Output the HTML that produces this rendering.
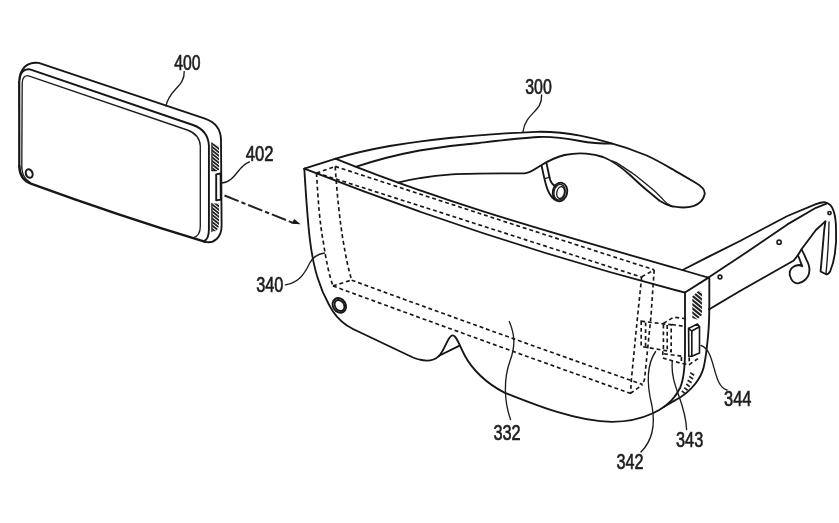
<!DOCTYPE html>
<html>
<head>
<meta charset="utf-8">
<title>Patent figure</title>
<style>
html,body{margin:0;padding:0;background:#fff;}
body{width:839px;height:523px;overflow:hidden;font-family:"Liberation Sans",sans-serif;}
svg{display:block;}
.l{fill:none;stroke:#141414;stroke-width:1.85;stroke-linecap:round;stroke-linejoin:round;}
.t{fill:none;stroke:#1e1e1e;stroke-width:1.35;stroke-linecap:round;stroke-linejoin:round;}
.d{fill:none;stroke:#181818;stroke-width:1.65;stroke-dasharray:3.9 2.9;stroke-linecap:butt;}
.h{fill:none;stroke:#222;stroke-width:1.2;stroke-linecap:butt;}
text{font-family:"Liberation Sans",sans-serif;font-size:22px;fill:#1c1c1c;stroke:#1c1c1c;stroke-width:0.65;}
</style>
</head>
<body>
<svg width="839" height="523" viewBox="0 0 839 523">
<defs>
<filter id="b" x="-5%" y="-5%" width="110%" height="110%"><feGaussianBlur stdDeviation="0.55"/></filter>
</defs>
<rect x="0" y="0" width="839" height="523" fill="#ffffff"/>
<g filter="url(#b)">

<!-- ================= PHONE 400 ================= -->
<g id="phone">
<path class="l" d="M19.2,82 C19.3,69 27,61.4 38.7,62.9 L205,118.6 C216,122.5 221,129 221,140 L221.6,226 C221.6,237 214,244.3 204.6,241.7"/>
<path class="l" style="stroke-width:2.4" d="M204.6,241.7 Q118,215.4 31.5,183.8 C24,181.5 19.6,175 19.3,166"/>
<path class="l" style="stroke-width:2.2" d="M19.3,166 L19.2,82"/>
<path class="l" d="M19.6,80 C20,72.5 24,68.4 30,69.4 L193,125 C203,128.6 208.6,135 208.9,146 L208.9,229 C209,236 207.4,240 203.5,241.3"/>
<path class="t" d="M21.8,168 L22.2,83 C22.4,77.5 25,75 28.6,75.8 L187.3,130 C196,133.2 200,138 200.3,146 L200.3,226.5 C200.3,232.5 198,236.5 193,238"/>
<path class="t" d="M21.8,168 C22.3,174 25,179.5 30,182.4"/>
<ellipse class="l" cx="29.2" cy="173.5" rx="3.3" ry="4.4" transform="rotate(-20 29.2 173.5)" style="stroke-width:2"/>
<!-- connector -->
<path class="l" d="M216.2,174.3 L220.6,173.4 L220.8,199.6 L216.2,200.4 Z"/>
</g>

<!-- ================= GLASSES 300 ================= -->
<g id="glasses">
<!-- front face outline -->
<path class="l" d="M304.3,168.7 C305.6,190 307.6,222 310.2,242 C312,256 314.5,268 317.5,277.5 C321,289 327,302 333,311.5 C338,319 345,325 353,329 L413,357.5 C422,361 432,362.4 438.6,356.4 C445,350 447.5,336.6 452.2,335.4 C456.5,334.6 459,345 464.5,355 C472,369.5 487,384 504.5,392.6 C534.5,404.6 577,421.8 612,421.8 C640,421.8 669,411 680,388 C684.5,378 685,365 685,350 L685,292.5"/>
<!-- front top edge -->
<path class="l" d="M304.3,168.7 C431.2,218.6 558.1,259.5 685,292.6"/>
<!-- back top edge -->
<path class="l" d="M335.9,158.8 C460.1,209.1 584.3,241.1 708.5,277.7"/>
<!-- left side top -->
<path class="l" d="M304.3,168.7 L335.9,158.6"/>
<!-- right side top -->
<path class="l" d="M685,292.5 L708.5,277.6"/>
</g>

<!-- left arm -->
<path class="l" d="M335.9,158.6 C352,153.5 370,149.5 389.7,146 C410,142.6 430,140 449.3,138 C475,135.4 500,133.4 521,132.6 C527,132.2 533,131.8 537.3,131.8 C553,131.6 567,133 580,135.6 C590,137.5 600,140 609,142.6 C622,146 636,151 646.7,155.5 C660,161.5 670,168 680,173.6 L696,183 C702,186.5 705.6,190.5 704.5,194.8 C703.3,200 700,203.6 694,205.8 C688,207.8 678,207.6 671,206"/>
<path class="l" d="M356.4,166.7 C377,159.8 398,154.5 419.5,150.5 C440,147 460,144.6 479,143 C500,140.5 520,138 538.8,137 C553,136.4 567,138.6 580,141 C591,143 601,143.6 612,143.6"/>
<path class="l" d="M397.8,182.6 C415,178.5 435,175.5 452,174.4 C475,173 500,173.6 524.4,173.3 C531,173 536,168 541.6,165 C549,160.5 557,157 564.5,155 C572,153.5 580,153 586,153.6 C590,154 597,155 603,157 C612,160.5 621,167 630,175 C637,181.5 641,185.5 646.7,190 C652,194.5 656,198 660,201 C664,203.5 667,205 671,206"/>
<path class="t" d="M612,160.8 C616,161.8 618.5,163.6 621,165.6 C626,169 631,172 635,175 C642,180.5 648,185.5 653.4,190 C658,194 663,199.5 666.8,203.4 L671,206"/>
<!-- earbud 1 -->
<path class="l" d="M541.6,165.8 C543,172 544,178 545.9,184.4 C547.5,190.5 550,196 554.5,199.5"/>
<path class="l" d="M546.6,163.7 C547.8,169 548.8,174.5 550.2,180 C551.2,183 553,185 555.2,185.9"/>
<path class="t" d="M544.8,178.6 L549.6,177.2"/>
<ellipse class="l" cx="560" cy="192" rx="7.2" ry="9.4" transform="rotate(12 560 192)"/>
<ellipse class="t" cx="560.6" cy="192.6" rx="3.8" ry="6" transform="rotate(12 560.6 192.6)"/>
<ellipse class="t" cx="559.6" cy="192.2" rx="5.6" ry="7.9" transform="rotate(12 559.6 192.2)"/>

<!-- right arm -->
<path class="l" d="M682.6,270 C702,260 720,251 740,241 L787.4,216 L815.9,204.2 C820,202.6 823,202 825.4,202.4 C830,203.5 832.5,207 833.7,211.3 C835.5,217 836,223 836,229 C836.6,238 836,246 834.9,253.7 C834,260 832.5,266 830.1,271.5 C829,273.5 828,274.3 826.6,274.5 L820.6,271.5 L824.2,230 L825.4,221.4"/>
<path class="l" d="M708.5,277.6 L747,252 L787.4,224.4 L815.9,207.8 L826.6,203.6"/>
<path class="l" d="M709.3,309.2 L740,291 L793.4,260.8 C797,257 799.5,253 801.7,249 L815.9,230 L825.4,221.4"/>
<path class="t" d="M829,222 C828.8,240 827.5,258 826,273.9"/>
<path class="l" d="M709.3,278.4 L709.3,309.2"/>
<circle class="t" cx="720" cy="277" r="1.9" style="stroke-width:1.6"/>
<circle class="t" cx="779.1" cy="242.2" r="2.1" style="stroke-width:1.6"/>
<circle class="t" cx="829.5" cy="213.1" r="1.6" style="stroke-width:1.7"/>
<!-- earbud 2 -->
<path class="l" d="M801.7,249.6 C803.5,253 805,256 806.4,259.6 C808.3,263 809.6,266.5 809.4,270.3 C809.3,274.5 807.8,277.5 805.2,279.8 C803,281.8 801,283 798.1,283.4 C795,283.4 792.5,281.5 791,278.6 C789.6,276.4 789.3,274 789.8,271.5 C790.4,269.3 791.6,267.8 793.4,266.8 C795.3,265.6 797.3,265 799.3,265 C800.5,265.2 801.4,265.6 802.2,266.2 L798.1,255.5"/>

<!-- right side face back edge -->
<path class="l" d="M709.3,309.2 C709.2,320 708.6,333 707.2,344 C706.4,352 705.2,361 703.6,367.5 C702,374 699,379 695.5,383.5 C690,390.5 682,397 674,400.9 C670,403.2 667,405 664,406.8"/>

<!-- dashed display 332 -->
<path class="d" d="M316.5,173 L335.2,166.5"/>
<path class="d" d="M335.2,166.4 Q494.7,218.6 654.2,269.8"/>
<path class="d" d="M316.5,172.9 Q479.1,224.6 641.7,277.2"/>
<path class="d" d="M641.7,276.7 L654.2,270"/>
<path class="d" d="M316.5,173 C318,200 320,225 323,240 C326,260 329,275 333,285.9"/>
<path class="d" d="M335.2,166.5 C337,195 340,222 343,240 C346,258 348.5,270 351.7,280"/>
<path class="d" d="M333,285.9 L351.7,280"/>
<path class="d" d="M351.7,280.2 Q497,333.4 642.4,384.4"/>
<path class="d" d="M333,286 Q482,340.6 630.8,393.5"/>
<path class="d" d="M630.5,393.3 L642.4,385"/>
<path class="d" d="M654.2,270 L650.9,317 L644.5,379.5 L642.4,385"/>
<path class="d" d="M641.7,276.7 L637.5,317 L631.4,379.5 L630.5,393.3"/>

<!-- components 342 343 344 -->
<g style="stroke-dasharray:3.4 2">
<path class="d" d="M641.2,321.2 L671.2,324.8 L671.2,351.6 L641.2,346.4 Z"/>
<path class="d" d="M645.6,322.4 L645.6,346.6"/>
<path class="d" d="M663.4,324.6 L663.4,350.6 M667.2,325 L667.2,351.2"/>
<path class="d" d="M663.4,323.4 L673.6,317.2 L686,318.8 M672,324.6 L685,326.4"/>
<path class="d" d="M662.8,351.2 L662.8,358 L681.4,363.4 L689.2,364.6 L698,358.6"/>
<path class="d" d="M664,353.8 L684.6,356.6"/>
<path class="d" d="M681.4,357 L681.4,363.4 M689.2,357.4 L689.2,364.6"/>
</g>
<path class="l" style="stroke-width:1.6" d="M688.6,328.4 L691.8,331 L691.8,356.2 L688.8,356.2 Z"/>
<path class="l" style="stroke-width:1.6" d="M691.8,331 L699.5,326.8 L699.5,353 L691.8,356.2"/>
<path class="l" style="stroke-width:1.6" d="M688.6,328.4 L697.4,324 L699.5,326.8"/>

<!-- vents -->
<clipPath id="v1"><polygon points="212.2,142.8 219.0,146.2 219.0,170.2 212.2,170.2"/></clipPath>
<g clip-path="url(#v1)"><path class="h" style="stroke-width:1.80" d="M211.5,136.0 L219.5,142.4 M211.5,139.5 L219.5,145.9 M211.5,143.0 L219.5,149.4 M211.5,146.5 L219.5,152.9 M211.5,150.0 L219.5,156.4 M211.5,153.5 L219.5,159.9 M211.5,157.0 L219.5,163.4 M211.5,160.5 L219.5,166.9 M211.5,164.0 L219.5,170.4 M211.5,167.5 L219.5,173.9"/></g>
<path class="t" d="M211.9,143 L211.9,170.6 L216.5,170.6"/>
<clipPath id="v2"><polygon points="212.2,203.6 219.0,203.6 219.0,226.0 216.5,231.0 212.2,231.4"/></clipPath>
<g clip-path="url(#v2)"><path class="h" style="stroke-width:1.80" d="M211.5,197.0 L219.5,203.4 M211.5,200.5 L219.5,206.9 M211.5,204.0 L219.5,210.4 M211.5,207.5 L219.5,213.9 M211.5,211.0 L219.5,217.4 M211.5,214.5 L219.5,220.9 M211.5,218.0 L219.5,224.4 M211.5,221.5 L219.5,227.9 M211.5,225.0 L219.5,231.4 M211.5,228.5 L219.5,234.9"/></g>
<path class="t" d="M211.9,203.4 L211.9,231.6"/>
<clipPath id="v3"><polygon points="698.8,290.6 702.0,292.2 702.0,315.0 697.0,319.6 692.3,318.0 692.3,296.5"/></clipPath>
<g clip-path="url(#v3)"><path class="h" style="stroke-width:2.10" d="M691.8,283.0 L702.4,291.6 M691.8,287.1 L702.4,295.8 M691.8,291.3 L702.4,299.9 M691.8,295.4 L702.4,304.0 M691.8,299.6 L702.4,308.2 M691.8,303.7 L702.4,312.3 M691.8,307.9 L702.4,316.5 M691.8,312.0 L702.4,320.6 M691.8,316.2 L702.4,324.8"/></g>
<path class="h" style="stroke-width:1.7" d="M690.2,372.6 L694.2,375.2 M689.2,376.4 L693,379 M687.6,380.2 L691.6,382.8 M686.2,384 L689.8,386.6 M684.2,387.6 L687.6,390.2 M681.8,390.8 L684.8,393.4"/>

<!-- leaders -->
<path class="t" d="M184.2,71.5 C185,87 169,89 166,106"/>
<path class="t" d="M249.5,162 C238,165 236,182 221,183.2"/>
<path class="t" d="M541.6,95 C542.5,112 526,112 523,131.5"/>
<path class="t" d="M285.4,284.8 C298,283 304,275 309.5,263.5 C313,256.5 318,254 324.5,253"/>
<path class="t" d="M509.3,321.5 C515,335 515.5,346 510,361 C503.5,379 504,401 510.5,419.5"/>
<path class="t" d="M655.6,351.5 C646.5,365 647,386 652,406 C655.5,425 652,441 641,452"/>
<path class="t" d="M672.3,361 C670,386 685.5,401 686.6,429.5"/>
<path class="t" d="M701,345.5 C716,350 712,386 727,390"/>

<!-- arrow -->
<path class="h" style="stroke-width:2" d="M224.5,195.5 L292.4,222.6" stroke-dasharray="15.2 3 4.3 3"/>
<path d="M300.6,224.2 L294.2,219 L291.4,223.8 Z" fill="#181818"/>

<!-- glasses camera -->
<ellipse class="l" cx="339.3" cy="305.4" rx="6.3" ry="7.7" transform="rotate(-32 339.3 305.4)" style="stroke-width:1.9"/>
<ellipse class="l" cx="339.5" cy="305.5" rx="4.5" ry="5.8" transform="rotate(-32 339.5 305.5)" style="stroke-width:1.8"/>
<!-- nose inner line -->
<path class="l" d="M438.6,356 L459.6,345.6"/>

<!-- labels -->
<text x="174.2" y="69.9" textLength="26.4" lengthAdjust="spacingAndGlyphs">400</text>
<text x="245.8" y="161" textLength="27.8" lengthAdjust="spacingAndGlyphs">402</text>
<text x="525.2" y="93.5" textLength="26.6" lengthAdjust="spacingAndGlyphs">300</text>
<text x="256.2" y="291.5" textLength="27.2" lengthAdjust="spacingAndGlyphs">340</text>
<text x="493.4" y="440" textLength="27.3" lengthAdjust="spacingAndGlyphs">332</text>
<text x="616.6" y="469" textLength="27" lengthAdjust="spacingAndGlyphs">342</text>
<text x="676" y="446.6" textLength="27.2" lengthAdjust="spacingAndGlyphs">343</text>
<text x="724" y="405.5" textLength="27.4" lengthAdjust="spacingAndGlyphs">344</text>

</g>
</svg>
</body>
</html>
